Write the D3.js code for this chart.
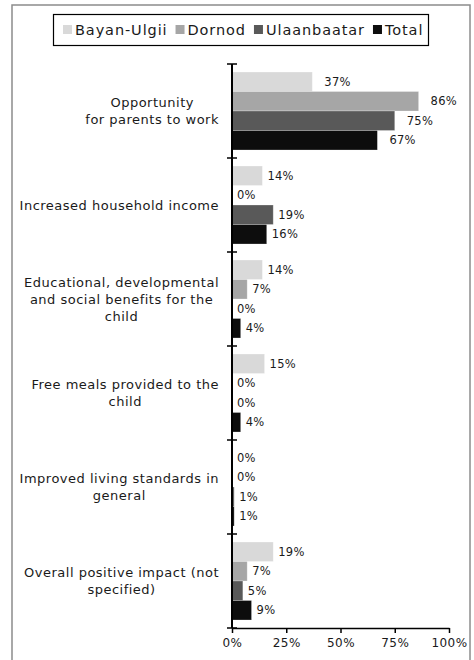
<!DOCTYPE html>
<html>
<head>
<meta charset="utf-8">
<script src="https://cdn.jsdelivr.net/npm/d3@7"></script>
<style>
  html, body { margin: 0; padding: 0; background: #fff; }
  svg { display: block; }
  text { font-family: "DejaVu Sans", sans-serif; fill: #1a1a1a; }
</style>
</head>
<body>
<svg id="chart" width="474" height="660"></svg>
<script>
// Reported benefits of childcare, share of respondents by region
const categories = [
  ["Opportunity", "for parents to work"],
  ["Increased household income"],
  ["Educational, developmental", "and social benefits for the", "child"],
  ["Free meals provided to the", "child"],
  ["Improved living standards in", "general"],
  ["Overall positive impact (not", "specified)"]
];
const seriesNames = ["Bayan-Ulgii", "Dornod", "Ulaanbaatar", "Total"];
const bayanUlgii  = [37, 14, 14, 15, 0, 19];
const dornod      = [86, 0, 7, 0, 0, 7];
const ulaanbaatar = [75, 19, 0, 0, 1, 5];
const total       = [67, 16, 4, 4, 1, 9];
const xTicks = [0, 25, 50, 75, 100];
const colors = ["#d9d9d9", "#a6a6a6", "#595959", "#0d0d0d"];

const seriesValues = [bayanUlgii, dornod, ulaanbaatar, total];
const catKeys = categories.map((c, i) => "c" + i);

const svg = d3.select("#chart");

// outer frame
svg.append("rect")
  .attr("x", 12).attr("y", 5).attr("width", 458).attr("height", 660)
  .attr("fill", "none").attr("stroke", "#8c8c8c").attr("stroke-width", 1.5);

const x = d3.scaleLinear().domain([0, 100]).range([232, 449]);
const y0 = d3.scaleBand().domain(catKeys).range([64, 628]).padding(0);
const y1 = d3.scaleBand().domain(seriesNames).range([0, y0.bandwidth()])
  .paddingInner(0).paddingOuter(0.41);

// bars
const groups = svg.append("g").selectAll("g")
  .data(catKeys)
  .join("g")
  .attr("transform", d => `translate(0,${y0(d)})`);

groups.each(function(key, ci) {
  const g = d3.select(this);
  const rows = seriesNames.map((s, si) => ({ s, si, v: seriesValues[si][ci] }));
  g.selectAll("rect")
    .data(rows)
    .join("rect")
    .attr("x", x(0))
    .attr("y", d => y1(d.s))
    .attr("width", d => x(d.v) - x(0))
    .attr("height", y1.bandwidth())
    .attr("fill", d => colors[d.si])
    .attr("stroke", "#ffffff")
    .attr("stroke-opacity", 0.35)
    .attr("stroke-width", 0.75);
  g.selectAll("text.val")
    .data(rows)
    .join("text")
    .attr("class", "val")
    .attr("x", d => x(d.v) + (ci === 0 ? 12 : 5))
    .attr("y", d => y1(d.s) + y1.bandwidth() / 2)
    .attr("dy", "0.35em")
    .attr("font-size", 11.5)
    .attr("letter-spacing", 0.3)
    .text(d => d.v + "%");
});

// vertical category axis with crossing ticks
svg.append("line")
  .attr("x1", x(0)).attr("x2", x(0))
  .attr("y1", 64).attr("y2", 628)
  .attr("stroke", "#000").attr("stroke-width", 2);
const boundaries = catKeys.map(k => y0(k)).concat([y0.range()[1]]);
svg.append("g").selectAll("line")
  .data(boundaries)
  .join("line")
  .attr("x1", x(0) - 5).attr("x2", x(0) + 5)
  .attr("y1", d => d).attr("y2", d => d)
  .attr("stroke", "#000").attr("stroke-width", 1.5);

// category labels: right-aligned block, lines centred within it
const labelRight = 219;
const catG = svg.append("g");
categories.forEach((lines, i) => {
  const cy = y0(catKeys[i]) + y0.bandwidth() / 2;
  const t = catG.append("text")
    .attr("font-size", 13)
    .attr("letter-spacing", 0.5)
    .attr("text-anchor", "middle");
  const lh = 17;
  lines.forEach((ln, j) => {
    t.append("tspan")
      .attr("x", 0)
      .attr("y", cy + (j - (lines.length - 1) / 2) * lh)
      .attr("dy", "0.35em")
      .text(ln);
  });
  const w = t.node().getBBox().width;
  t.selectAll("tspan").attr("x", labelRight - w / 2);
});

// bottom value axis
const xAxis = d3.axisBottom(x)
  .tickValues(xTicks)
  .tickSize(5)
  .tickSizeOuter(0)
  .tickFormat(d => d + "%");
const ax = svg.append("g")
  .attr("transform", "translate(0,628)")
  .call(xAxis);
ax.select(".domain").attr("stroke", "#000").attr("stroke-width", 1.5);
ax.selectAll(".tick line").attr("stroke", "#000").attr("stroke-width", 1.5);
ax.selectAll(".tick text")
  .attr("font-family", "DejaVu Sans, sans-serif")
  .attr("font-size", 12)
  .attr("letter-spacing", 0.4)
  .attr("fill", "#1a1a1a")
  .attr("dy", "0.9em");

// legend
const legend = svg.append("g");
legend.append("rect")
  .attr("x", 53.5).attr("y", 14.5).attr("width", 375).attr("height", 31)
  .attr("fill", "#fff").attr("stroke", "#000").attr("stroke-width", 1.2);
const legendItems = legend.selectAll("g")
  .data(seriesNames)
  .join("g");
let lx = 63;
legendItems.each(function(name, i) {
  const g = d3.select(this);
  g.append("rect")
    .attr("x", lx).attr("y", 25).attr("width", 9).attr("height", 9)
    .attr("fill", colors[i]);
  const t = g.append("text")
    .attr("x", lx + 12).attr("y", 30)
    .attr("dy", "0.35em")
    .attr("font-size", 14.5)
    .attr("letter-spacing", 0.9)
    .text(name);
  lx += 12 + t.node().getComputedTextLength() + 8;
});
</script>
</body>
</html>
